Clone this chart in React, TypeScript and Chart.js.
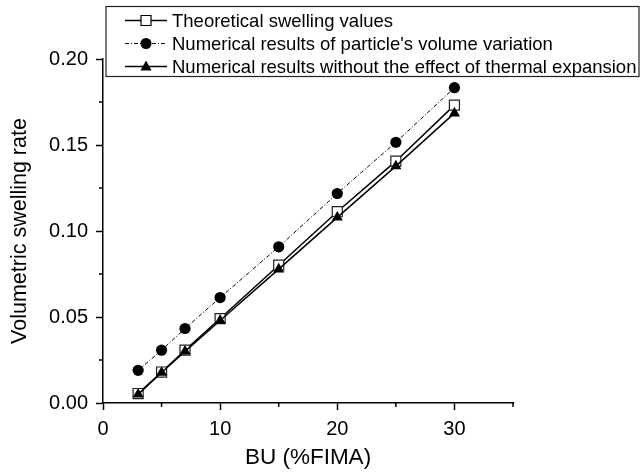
import React, { useEffect, useRef } from "react";
import { Chart, registerables } from "chart.js";

Chart.register(...registerables);

const burnup = [3, 5, 7, 10, 15, 20, 25, 30];
const theoretical = [0.0055, 0.018, 0.0307, 0.0491, 0.0801, 0.1112, 0.1406, 0.1732];
const numericalVolume = [0.019, 0.0307, 0.0433, 0.0613, 0.0908, 0.1218, 0.1516, 0.1833];
const numericalNoThermal = [0.005, 0.0177, 0.030, 0.048, 0.0778, 0.1079, 0.1377, 0.1685];

const xMajorTicks = [0, 10, 20, 30];
const xMinorTicks = [5, 15, 25, 35];
const yMajorTicks = [0, 0.05, 0.1, 0.15, 0.2];
const yMinorTicks = [0.025, 0.075, 0.125, 0.175];

const legendLabels = [
  "Theoretical swelling values",
  "Numerical results of particle's volume variation",
  "Numerical results without the effect of thermal expansion",
];

const FONT = "'Liberation Sans', Arial, Helvetica, sans-serif";

const minorTicksPlugin = {
  id: "minorTicks",
  afterDraw(chart: any) {
    const ctx = chart.ctx;
    const xs = chart.scales.x;
    const ys = chart.scales.y;
    ctx.save();
    ctx.strokeStyle = "#000";
    ctx.lineWidth = 1.5;
    ctx.beginPath();
    xMinorTicks.forEach((v) => {
      const px = xs.getPixelForValue(v);
      ctx.moveTo(px, ys.bottom);
      ctx.lineTo(px, ys.bottom + 4);
    });
    yMinorTicks.forEach((v) => {
      const py = ys.getPixelForValue(v);
      ctx.moveTo(xs.left, py);
      ctx.lineTo(xs.left - 4, py);
    });
    ctx.stroke();
    ctx.restore();
  },
};

const legendPlugin = {
  id: "customLegend",
  afterDraw(chart: any) {
    const ctx = chart.ctx;
    ctx.save();
    ctx.fillStyle = "#fff";
    ctx.fillRect(106, 6.5, 533, 70);
    ctx.strokeStyle = "#222";
    ctx.lineWidth = 1.2;
    ctx.strokeRect(106, 6.5, 533, 70);
    const centers = [20.5, 43.5, 66.5];
    const x0 = 125;
    const x1 = 167;
    const xm = 146;
    centers.forEach((cy, i) => {
      ctx.save();
      ctx.strokeStyle = "#000";
      ctx.lineWidth = i === 1 ? 1 : 1.5;
      ctx.setLineDash(i === 1 ? [4, 2, 1, 2] : []);
      ctx.beginPath();
      ctx.moveTo(x0, cy);
      ctx.lineTo(x1, cy);
      ctx.stroke();
      ctx.restore();
      ctx.save();
      ctx.setLineDash([]);
      ctx.lineWidth = 1.2;
      ctx.strokeStyle = "#000";
      ctx.fillStyle = i === 0 ? "#fff" : "#000";
      ctx.beginPath();
      if (i === 0) {
        ctx.rect(xm - 5, cy - 5, 10, 10);
        ctx.fill();
        ctx.stroke();
      } else if (i === 1) {
        ctx.arc(xm, cy, 5.5, 0, Math.PI * 2);
        ctx.fill();
      } else {
        ctx.moveTo(xm, cy - 6);
        ctx.lineTo(xm + 5.5, cy + 4);
        ctx.lineTo(xm - 5.5, cy + 4);
        ctx.closePath();
        ctx.fill();
      }
      ctx.restore();
      ctx.fillStyle = "#000";
      ctx.font = `18.5px ${FONT}`;
      ctx.textBaseline = "alphabetic";
      ctx.textAlign = "left";
      ctx.fillText(legendLabels[i], 172, cy + 6.6);
    });
    ctx.restore();
  },
};

export default function App() {
  const canvasRef = useRef<HTMLCanvasElement | null>(null);

  useEffect(() => {
    if (!canvasRef.current) return;
    const chart = new Chart(canvasRef.current, {
      type: "line",
      data: {
        datasets: [
          {
            label: legendLabels[2],
            data: burnup.map((x, i) => ({ x, y: numericalNoThermal[i] })),
            borderColor: "#000",
            borderWidth: 1.5,
            pointStyle: "triangle",
            pointRadius: 6.4,
            pointBackgroundColor: "#000",
            pointBorderColor: "#000",
            pointBorderWidth: 0,
            order: 0,
          },
          {
            label: legendLabels[0],
            data: burnup.map((x, i) => ({ x, y: theoretical[i] })),
            borderColor: "#000",
            borderWidth: 1.5,
            pointStyle: "rect",
            pointRadius: 7.1,
            pointBackgroundColor: "#fff",
            pointBorderColor: "#222",
            pointBorderWidth: 1.2,
            order: 1,
          },
          {
            label: legendLabels[1],
            data: burnup.map((x, i) => ({ x, y: numericalVolume[i] })),
            borderColor: "#000",
            borderWidth: 1,
            borderDash: [4, 2, 1, 2],
            pointStyle: "circle",
            pointRadius: 5.6,
            pointBackgroundColor: "#000",
            pointBorderColor: "#000",
            pointBorderWidth: 0,
            order: 2,
          },
        ],
      },
      options: {
        animation: false,
        responsive: false,
        maintainAspectRatio: false,
        clip: false as any,
        layout: { padding: { left: 0, right: 128, top: 59, bottom: 0 } },
        plugins: {
          legend: { display: false },
          tooltip: { enabled: false },
        },
        elements: { line: { tension: 0 } },
        scales: {
          x: {
            type: "linear",
            min: 0,
            max: 35,
            afterFit: (s: any) => {
              s.height = 70;
            },
            afterBuildTicks: (s: any) => {
              s.ticks = xMajorTicks.map((v) => ({ value: v }));
            },
            grid: {
              drawOnChartArea: false,
              drawTicks: true,
              tickLength: 7,
              tickWidth: 1.5,
              color: "#000",
            },
            border: { display: true, color: "#000", width: 1.5 },
            ticks: {
              color: "#000",
              padding: 7,
              maxRotation: 0,
              font: { family: FONT, size: 20 },
              callback: (v: any) => String(v),
            },
            title: {
              display: true,
              text: "BU (%FIMA)",
              color: "#000",
              font: { family: FONT, size: 22.5 },
              padding: { top: 0, bottom: 1.5 },
            },
          },
          y: {
            type: "linear",
            min: 0,
            max: 0.2,
            afterFit: (s: any) => {
              s.width = 103;
            },
            afterBuildTicks: (s: any) => {
              s.ticks = yMajorTicks.map((v) => ({ value: v }));
            },
            grid: {
              drawOnChartArea: false,
              drawTicks: true,
              tickLength: 7,
              tickWidth: 1.5,
              color: "#000",
            },
            border: { display: true, color: "#000", width: 1.5 },
            ticks: {
              color: "#000",
              padding: 8,
              font: { family: FONT, size: 20 },
              callback: (v: any) => Number(v).toFixed(2),
            },
            title: {
              display: true,
              text: "Volumetric swelling rate",
              color: "#000",
              font: { family: FONT, size: 21.5 },
              padding: { top: 7, bottom: 0 },
            },
          },
        },
      },
      plugins: [minorTicksPlugin, legendPlugin],
    });
    return () => chart.destroy();
  }, []);

  return (
    <div style={{ position: "fixed", left: 0, top: 0, width: 641, height: 473, background: "#fff" }}>
      <canvas ref={canvasRef} width={641} height={473} style={{ display: "block" }} />
    </div>
  );
}
